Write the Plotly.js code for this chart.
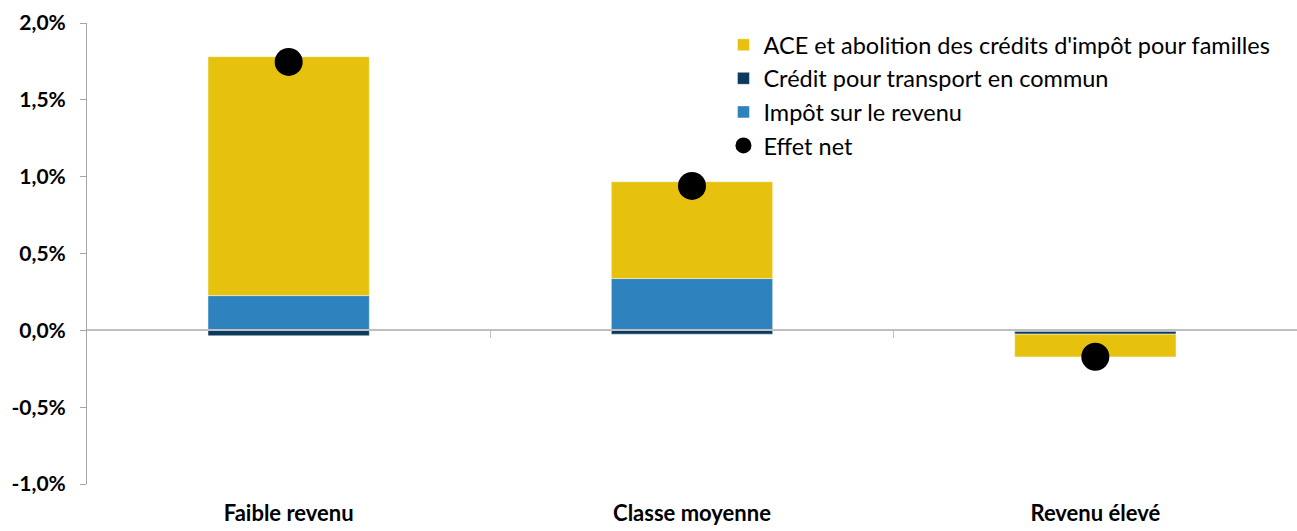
<!DOCTYPE html>
<html><head><meta charset="utf-8">
<script src="https://cdn.plot.ly/plotly-3.0.1.min.js"></script>
<style>body{margin:0;background:#fff}#c{width:1297px;height:531px}</style>
</head><body><div id="c"></div>
<script>
const categories = ["Faible revenu", "Classe moyenne", "Revenu élevé"];
const impotRevenu = [0.226, 0.337, -0.007];
const creditTransport = [-0.035, -0.025, -0.018];
const aceAbolition = [1.555, 0.63, -0.148];
const effetNet = [1.747, 0.94, -0.172];
const yTickVals = [-1.0, -0.5, 0.0, 0.5, 1.0, 1.5, 2.0];
const yTickText = ["-1,0%", "-0,5%", "0,0%", "0,5%", "1,0%", "1,5%", "2,0%"];
const boundaryTicks = [0.5, 1.5];

const FONT = "Lato, 'Open Sans', sans-serif";
const barLine = {color: "rgba(255,255,255,0.45)", width: 1};
const traces = [
  {type: "bar", name: "Impôt sur le revenu", x: categories, y: impotRevenu,
   marker: {color: "#2E83BE", line: barLine}, width: 0.4, legendrank: 3},
  {type: "bar", name: "Crédit pour transport en commun", x: categories, y: creditTransport,
   marker: {color: "#0B3A5C", line: barLine}, width: 0.4, legendrank: 2},
  {type: "bar", name: "ACE et abolition des crédits d'impôt pour familles", x: categories, y: aceAbolition,
   marker: {color: "#E6C20F", line: barLine}, width: 0.4, legendrank: 1},
  {type: "scatter", mode: "markers", name: "Effet net", x: categories, y: effetNet,
   marker: {color: "#000", size: 28}, legendrank: 4},
  {type: "scatter", mode: "markers", x: [], y: [], xaxis: "x2", yaxis: "y",
   showlegend: false, hoverinfo: "skip"}
];
const layout = {
  width: 1297, height: 531,
  margin: {l: 87, r: 0, t: 23, b: 47},
  paper_bgcolor: "#fff", plot_bgcolor: "#fff",
  barmode: "relative",
  showlegend: true,
  font: {family: FONT, color: "#000"},
  legend: {x: 0.526, y: 1.0, xanchor: "left", yanchor: "top",
    font: {size: 23.5, family: FONT, color: "#000"}, bgcolor: "rgba(0,0,0,0)",
    itemwidth: 30, tracegroupgap: 0},
  xaxis: {type: "category", range: [-0.5, 2.5], showline: false, showgrid: false,
    zeroline: false, ticks: "", ticklabelstandoff: 14,
    tickfont: {size: 22, family: FONT, weight: "bold", color: "#000"}},
  xaxis2: {type: "linear", overlaying: "x", anchor: "free", position: 1/3,
    range: [-0.5, 2.5], tickvals: boundaryTicks, showticklabels: false,
    ticks: "outside", ticklen: 7, tickcolor: "#BFBFBF", tickwidth: 1,
    showline: true, linecolor: "#BFBFBF", linewidth: 2, showgrid: false, zeroline: false},
  yaxis: {range: [-1.0, 2.0], tickvals: yTickVals, ticktext: yTickText,
    showgrid: false, zeroline: false, showline: true, linecolor: "#A6A6A6", linewidth: 1,
    ticks: "outside", ticklen: 6, tickcolor: "#A6A6A6", ticklabelstandoff: 10,
    tickfont: {size: 21, family: FONT, weight: "bold", color: "#000"}}
};
Plotly.newPlot("c", traces, layout, {displayModeBar: false, staticPlot: true});
</script></body></html>
